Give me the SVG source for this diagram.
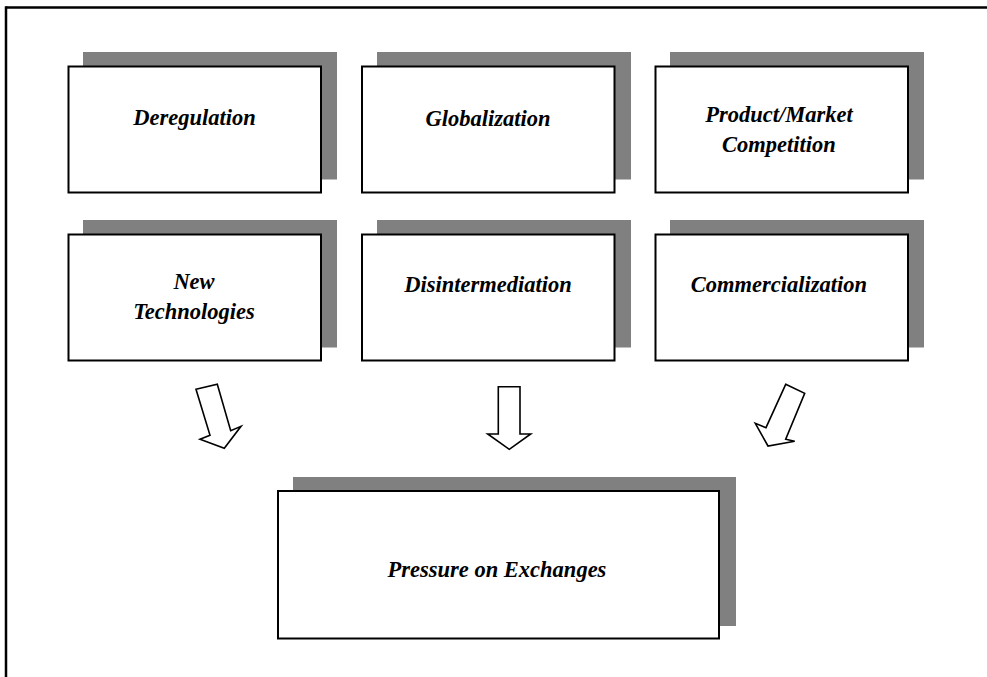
<svg xmlns="http://www.w3.org/2000/svg" width="987" height="677" viewBox="0 0 987 677">
  <style>
    .shadow { fill: #808080; stroke: none; }
    .box { fill: #ffffff; stroke: #000000; stroke-width: 2; }
    .label { font-family: "Liberation Serif", "Times New Roman", serif; font-size: 22.5px; font-weight: bold; font-style: italic; fill: #000000; text-anchor: middle; }
    .arrow { fill: #ffffff; stroke: #000000; stroke-width: 1.6; stroke-linejoin: miter; }
    .frame { stroke: #000000; stroke-width: 2.5; fill: none; }
  </style>
  <rect x="0" y="0" width="987" height="677" fill="#ffffff"/>
  <g id="frame">
    <line class="frame" x1="6" y1="7.5" x2="987" y2="7.5"/>
    <line class="frame" x1="6" y1="6.3" x2="6" y2="677"/>
  </g>

  <g id="deregulation">
    <rect class="shadow" x="83" y="52" width="254" height="127.5"/>
    <rect class="box" x="68.5" y="66.5" width="252.5" height="126"/>
    <text class="label" x="194.5" y="125">Deregulation</text>
  </g>
  <g id="globalization">
    <rect class="shadow" x="377" y="52" width="254" height="127.5"/>
    <rect class="box" x="362" y="66.5" width="252.5" height="126"/>
    <text class="label" x="488" y="126">Globalization</text>
  </g>
  <g id="product-market">
    <rect class="shadow" x="670" y="52" width="254" height="127.5"/>
    <rect class="box" x="655.5" y="66.5" width="252.5" height="126"/>
    <text class="label" x="779" y="122">Product/Market</text>
    <text class="label" x="779" y="152">Competition</text>
  </g>

  <g id="new-technologies">
    <rect class="shadow" x="83" y="220" width="254" height="127.5"/>
    <rect class="box" x="68.5" y="234.5" width="252.5" height="126"/>
    <text class="label" x="194" y="289">New</text>
    <text class="label" x="194" y="319">Technologies</text>
  </g>
  <g id="disintermediation">
    <rect class="shadow" x="377" y="220" width="254" height="127.5"/>
    <rect class="box" x="362" y="234.5" width="252.5" height="126"/>
    <text class="label" x="488" y="292">Disintermediation</text>
  </g>
  <g id="commercialization">
    <rect class="shadow" x="670" y="220" width="254" height="127.5"/>
    <rect class="box" x="655.5" y="234.5" width="252.5" height="126"/>
    <text class="label" x="779" y="292">Commercialization</text>
  </g>

  <g id="pressure-on-exchanges">
    <rect class="shadow" x="293" y="477" width="443" height="149"/>
    <rect class="box" x="278" y="491" width="441" height="147.5"/>
    <text class="label" x="497" y="577">Pressure on Exchanges</text>
  </g>

  <g id="connectors">
    <polygon class="arrow" points="196,389.3 217.3,384.3 230.7,430.7 241,426.3 224.3,448.3 200,439.3 210,435.3"/>
    <polygon class="arrow" points="498.3,386.7 520,386.7 520,434 530.7,434 509.3,449.3 487.7,434 498.3,434"/>
    <polygon class="arrow" points="785.7,384.3 804.7,393.3 785.7,439.3 794.7,441.3 768,446 755.3,423.3 766,427.7"/>
  </g>
</svg>
